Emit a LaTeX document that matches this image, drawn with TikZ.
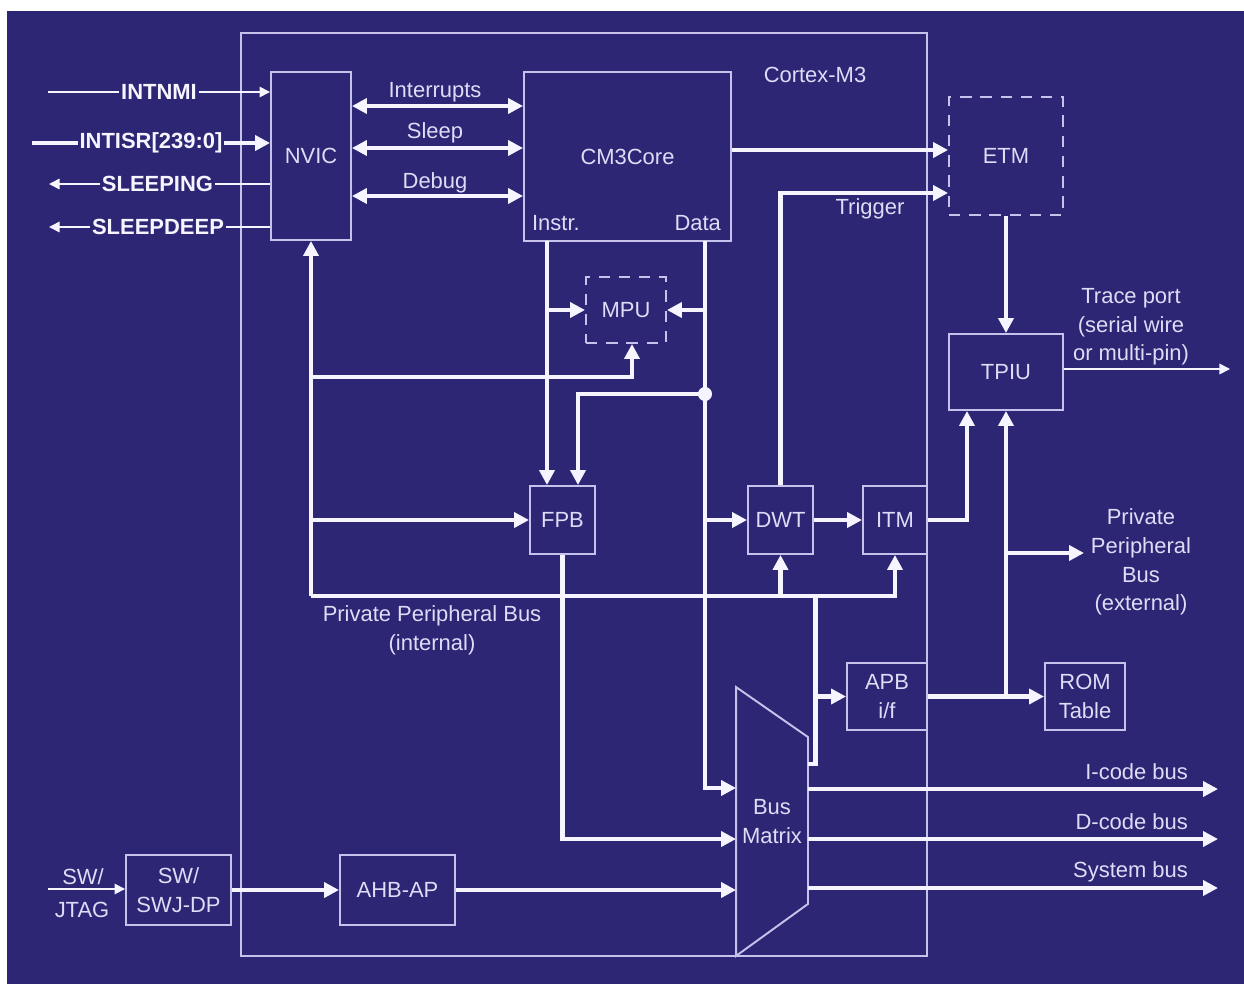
\documentclass[tikz,border=0pt]{standalone}
\usepackage{fontspec}
\setmainfont{Liberation Sans}
\usetikzlibrary{arrows.meta,calc}

\definecolor{bgblue}{RGB}{44,38,116}
\definecolor{wirecol}{RGB}{246,245,255}
\definecolor{edgecol}{RGB}{198,194,236}
\definecolor{inkcol}{RGB}{222,220,246}

\begin{document}
\begin{tikzpicture}[x=0.02cm, y=-0.02cm,
  box/.style={draw=edgecol, line width=1.1pt, text=inkcol, align=center,
              inner sep=0pt, font=\fontsize{12.5}{16.3}\selectfont},
  dbox/.style={box, dash pattern=on 6.5pt off 5pt},
  lbl/.style={text=inkcol, align=center, inner sep=1pt,
              font=\fontsize{12.5}{16.3}\selectfont},
  sig/.style={lbl, fill=bgblue, text=wirecol,
              font=\fontsize{12.5}{16.3}\selectfont\bfseries},
  bus/.style={draw=wirecol, line width=2.3pt},
  arr/.style={bus, -{Triangle[length=8.5pt,width=8.5pt]}},
  darr/.style={bus, {Triangle[length=8.5pt,width=8.5pt]}-{Triangle[length=8.5pt,width=8.5pt]}},
  sigarr/.style={draw=wirecol, line width=0.9pt, -{Triangle[length=6pt,width=6pt]}},
]
  % Background
  \fill[white] (0,0) rectangle (1244,984);
  \fill[bgblue] (7,11) rectangle (1244,984);
  \useasboundingbox (0,0) rectangle (1244,984);

  % Cortex-M3 boundary
  \node[box, minimum width=13.72cm, minimum height=18.46cm] (cortex) at (584,494.5) {};
  \node[lbl] (cortexlbl) at (815,75) {Cortex-M3};

  % Blocks
  \node[box, minimum width=1.6cm, minimum height=3.36cm] (nvic) at (311,156) {NVIC};
  \node[box, minimum width=4.14cm, minimum height=3.38cm] (core) at (627.5,156.5) {CM3Core};
  \node[dbox, minimum width=2.28cm, minimum height=2.36cm] (etm) at (1006,156) {ETM};
  \node[box, minimum width=2.28cm, minimum height=1.52cm] (tpiu) at (1006,372) {TPIU};
  \node[dbox, minimum width=1.6cm, minimum height=1.32cm] (mpu) at (626,310) {MPU};
  \node[box, minimum width=1.3cm, minimum height=1.36cm] (fpb) at (562.5,520) {FPB};
  \node[box, minimum width=1.3cm, minimum height=1.36cm] (dwt) at (780.5,520) {DWT};
  \node[box, minimum width=1.28cm, minimum height=1.36cm] (itm) at (895,520) {ITM};
  \node[box, minimum width=1.6cm, minimum height=1.34cm] (apb) at (887,696.5) {APB\\i/f};
  \node[box, minimum width=1.6cm, minimum height=1.34cm] (rom) at (1085,696.5) {ROM\\Table};
  \node[box, minimum width=2.1cm, minimum height=1.4cm] (swj) at (178.5,890) {SW/\\SWJ-DP};
  \node[box, minimum width=2.3cm, minimum height=1.4cm] (ahb) at (397.5,890) {AHB-AP};
  \node[box, draw=none, minimum width=1.4cm, minimum height=5.34cm] (bm) at (772,821.5) {Bus\\Matrix};
  \draw[draw=edgecol, line width=1.1pt] (bm.north west) -- ($(bm.north east)+(0,50)$)
    -- ($(bm.south east)+(0,-52)$) -- (bm.south west) -- cycle;

  % Free ends
  \coordinate (nmiin) at (48,92);
  \coordinate (isrin) at (32,143);
  \coordinate (sleepout) at (49,184);
  \coordinate (deepout) at (49,227);
  \coordinate (ins) at (547,241);
  \coordinate (dat) at (705,241);
  \coordinate (ppbtap) at (815.5,764);
  \coordinate (traceout) at (1230,369);
  \coordinate (ppbout) at (1084,553);
  \coordinate (jtagin) at (48,889);
  \coordinate (icode) at (1218,789);
  \coordinate (dcode) at (1218,839);
  \coordinate (sysbus) at (1218,888);

  % NVIC signals
  \draw[sigarr] (nmiin) -- (nmiin -| nvic.west);
  \draw[arr] (isrin) -- (isrin -| nvic.west);
  \draw[sigarr] (sleepout -| nvic.west) -- (sleepout);
  \draw[sigarr] (deepout -| nvic.west) -- (deepout);
  \node[sig] (nmilbl) at (159,92) {INTNMI};
  \node[sig] (isrlbl) at (151,143) {INTISR[239:0]};
  \node[sig] (sleepinglbl) at (157.5,184) {SLEEPING};
  \node[sig] (deeplbl) at (158,227) {SLEEPDEEP};

  % NVIC <-> core
  \draw[darr] (nvic.east |- 0,106) -- (core.west |- 0,106);
  \draw[darr] (nvic.east |- 0,148) -- (core.west |- 0,148);
  \draw[darr] (nvic.east |- 0,196) -- (core.west |- 0,196);
  \node[lbl] (intlbl) at (435,92) {Interrupts};
  \node[lbl] (sleeplbl) at (435,133) {Sleep};
  \node[lbl] (dbglbl) at (435,183) {Debug};
  \node[lbl, anchor=west] (instrlbl) at (530,223) {Instr.};
  \node[lbl, anchor=east] (datalbl) at (723,223) {Data};

  % Trace
  \draw[arr] (core.east |- 0,150) -- (etm.west |- 0,150);
  \draw[arr] (dwt.north) |- (etm.west |- 0,193);
  \draw[arr] (etm.south) -- (tpiu.north);
  \draw[sigarr] (tpiu.east |- traceout) -- (traceout);
  \node[lbl] (triglbl) at (870,209) {Trigger};
  \node[lbl] (tracelbl) at (1131,327) {Trace port\\(serial wire\\or multi-pin)};

  % Instruction and data paths
  \draw[arr] (ins) -- (ins |- fpb.north);
  \draw[arr] (ins |- mpu.west) -- (mpu.west);
  \draw[arr] (dat |- mpu.east) -- (mpu.east);
  \draw[arr] (dat) |- (bm.west |- 0,788);
  \draw[arr] (dat |- 0,394) -| (fpb.north -| 578,0);
  \fill[wirecol] (dat |- 0,394) circle (4pt);
  \draw[arr] (dat |- dwt.west) -- (dwt.west);
  \draw[arr] (dwt.east) -- (itm.west);
  \draw[arr] (itm.east) -| (tpiu.south -| 967,0);

  % Private peripheral bus (internal)
  \draw[arr] (nvic.south |- 0,596) -- (nvic.south);
  \draw[arr] (nvic.south |- 0,596) -| (itm.south);
  \draw[arr] (dwt.south |- 0,596) -- (dwt.south);
  \draw[arr] (nvic.south |- 0,377) -| (mpu.south -| 632,0);
  \draw[arr] (nvic.south |- fpb.west) -- (fpb.west);
  \node[lbl] (ppbintlbl) at (432,630) {Private Peripheral Bus\\(internal)};

  % APB side
  \draw[bus] (bm.east |- ppbtap) -- (ppbtap) -- (ppbtap |- 0,596);
  \draw[arr] (ppbtap |- apb.west) -- (apb.west);
  \draw[arr] (apb.east) -- (rom.west);
  \draw[arr] (tpiu.south |- apb.east) -- (tpiu.south);
  \draw[arr] (tpiu.south |- ppbout) -- (ppbout);
  \node[lbl] (ppbextlbl) at (1141,562) {Private\\Peripheral\\Bus\\(external)};

  % Bus matrix inputs
  \draw[arr] (fpb.south) |- (bm.west |- 0,839);
  \draw[arr] (ahb.east) -- (bm.west |- ahb.east);
  \draw[arr] (swj.east) -- (ahb.west);
  \draw[sigarr] (jtagin) -- (jtagin -| swj.west);
  \node[lbl] (swlbl) at (83,877) {SW/};
  \node[lbl] (jtaglbl) at (82,910) {JTAG};

  % Bus matrix outputs
  \draw[arr] (bm.east |- icode) -- (icode);
  \draw[arr] (bm.east |- dcode) -- (dcode);
  \draw[arr] (bm.east |- sysbus) -- (sysbus);
  \node[lbl, anchor=east] (icodelbl) at (1190,772) {I-code bus};
  \node[lbl, anchor=east] (dcodelbl) at (1190,822) {D-code bus};
  \node[lbl, anchor=east] (syslbl) at (1190,872) {System bus};
\end{tikzpicture}
\end{document}
